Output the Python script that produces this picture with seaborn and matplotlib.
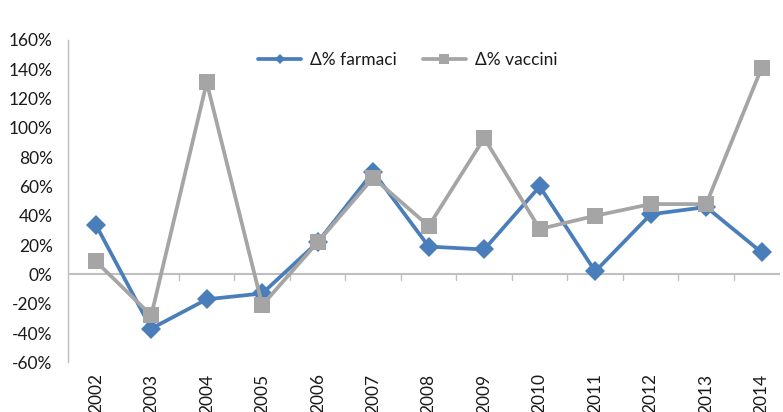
import matplotlib
matplotlib.use("Agg")
import matplotlib.pyplot as plt
from matplotlib.lines import Line2D
from matplotlib.ticker import FuncFormatter, MultipleLocator
import seaborn as sns
import pandas as pd

# Annual percentage changes
anni = ["2002", "2003", "2004", "2005", "2006", "2007", "2008",
        "2009", "2010", "2011", "2012", "2013", "2014"]
farmaci = [34, -37, -17, -13, 22, 70, 19, 17, 60, 2, 41, 46, 15]
vaccini = [9, -28, 131, -21, 22, 66, 33, 93, 31, 40, 48, 48, 141]

label_farmaci = "Δ% farmaci"
label_vaccini = "Δ% vaccini"

df = pd.DataFrame({"anno": anni, "farmaci": farmaci, "vaccini": vaccini})

sns.set_theme(style="white")
plt.rcParams["font.family"] = ["Lato", "DejaVu Sans"]

BLUE = "#4A7EBB"
GRAY = "#A5A5A5"
AXIS = "#BFBFBF"
TEXT = "#1a1a1a"

fig = plt.figure(figsize=(7.83, 4.12), dpi=100)
ax = fig.add_axes([68 / 783, 49.7 / 412, 712 / 783, 322.3 / 412])

sns.lineplot(data=df, x="anno", y="farmaci", ax=ax, color=BLUE, linewidth=2.7,
             marker="D", markersize=10, markeredgewidth=0, sort=False, zorder=3)
sns.lineplot(data=df, x="anno", y="vaccini", ax=ax, color=GRAY, linewidth=2.7,
             marker="s", markersize=12, markeredgewidth=0, sort=False, zorder=4)

ax.set_xlim(-0.5, 12.33)
ax.set_ylim(-60, 160)
ax.set_xlabel("")
ax.set_ylabel("")

# y axis
ax.yaxis.set_major_locator(MultipleLocator(20))
ax.yaxis.set_major_formatter(FuncFormatter(lambda v, p: f"{v:.0f}%"))
ax.tick_params(axis="y", direction="out", length=5, width=1, color=AXIS,
               labelsize=12.5, labelcolor=TEXT, pad=6)
for s in ["top", "right", "bottom"]:
    ax.spines[s].set_visible(False)
ax.spines["left"].set_color(AXIS)
ax.spines["left"].set_linewidth(1)

# category axis drawn along zero, labels at the bottom
ax.axhline(0, color=AXIS, linewidth=1.5, zorder=1)
for b in range(len(anni) - 1):
    ax.plot([b + 0.5, b + 0.5], [0, -3.5], color=AXIS, linewidth=1, zorder=1)
ax.set_xticks(range(len(anni)))
ax.set_xticklabels(anni, rotation=90)
ax.tick_params(axis="x", length=0, labelsize=12.5, labelcolor=TEXT, pad=8)

handles = [
    Line2D([], [], color=BLUE, linewidth=2.7, marker="D", markersize=5.5,
           markeredgewidth=0),
    Line2D([], [], color=GRAY, linewidth=2.7, marker="s", markersize=7,
           markeredgewidth=0),
]
ax.legend(handles, [label_farmaci, label_vaccini], loc="center",
          bbox_to_anchor=(0.477, 0.938), ncol=2, frameon=False, fontsize=12.5,
          handlelength=2.5, columnspacing=1.5, handletextpad=0.5,
          labelcolor=TEXT)

fig.savefig("out.png", dpi=100, facecolor="white")
